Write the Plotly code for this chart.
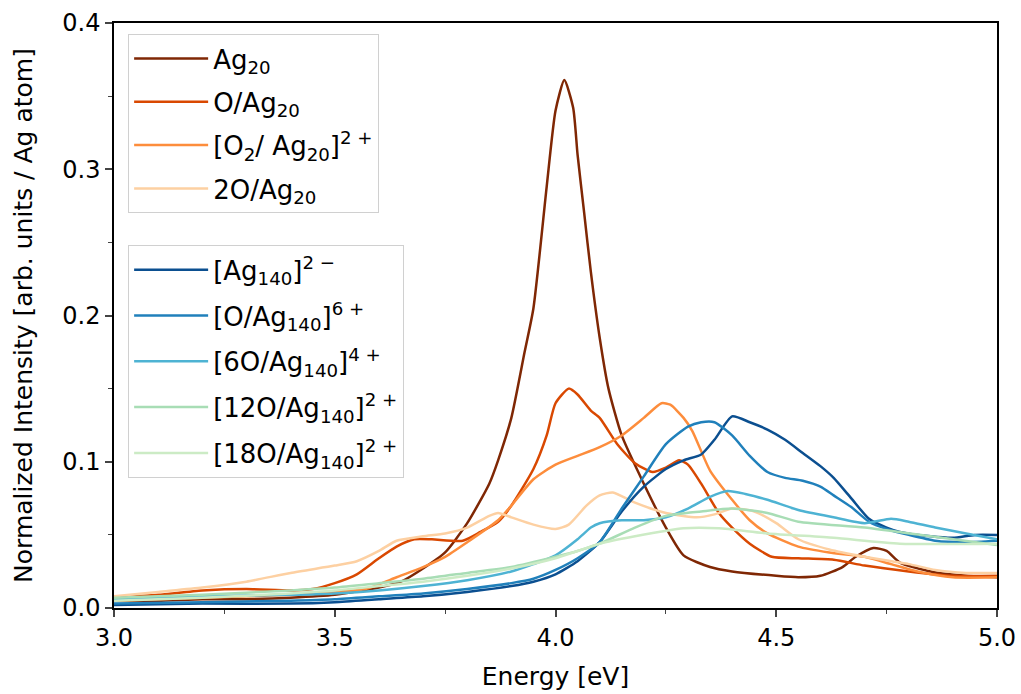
import plotly.graph_objects as go

# ---- data ----
ag20_x = [3.0, 3.1, 3.2, 3.3, 3.4, 3.5, 3.6, 3.65, 3.7, 3.75, 3.8, 3.85, 3.87, 3.9, 3.93, 3.95, 3.98, 4.0, 4.02, 4.04, 4.05, 4.065, 4.08, 4.1, 4.12, 4.15, 4.2, 4.25, 4.29, 4.35, 4.4, 4.5, 4.55, 4.6, 4.65, 4.68, 4.72, 4.75, 4.78, 4.85, 4.93, 5.0]
ag20_y = [0.005, 0.005, 0.006, 0.006, 0.007, 0.009, 0.014, 0.018, 0.027, 0.038, 0.058, 0.085, 0.101, 0.13, 0.175, 0.205, 0.288, 0.34, 0.361, 0.342, 0.31, 0.27, 0.23, 0.185, 0.15, 0.118, 0.085, 0.055, 0.036, 0.028, 0.025, 0.022, 0.021, 0.022, 0.028, 0.035, 0.041, 0.039, 0.031, 0.025, 0.022, 0.021]

oag20_x = [3.0, 3.1, 3.2, 3.3, 3.4, 3.45, 3.5, 3.55, 3.6, 3.64, 3.68, 3.72, 3.79, 3.83, 3.87, 3.9, 3.95, 3.98, 4.0, 4.03, 4.05, 4.08, 4.1, 4.14, 4.18, 4.22, 4.25, 4.28, 4.3, 4.33, 4.37, 4.4, 4.44, 4.49, 4.55, 4.63, 4.7, 4.8, 4.9, 5.0]
oag20_y = [0.007, 0.009, 0.012, 0.013, 0.012, 0.013, 0.017, 0.023, 0.034, 0.042, 0.047, 0.047, 0.046, 0.052, 0.059, 0.07, 0.095, 0.118, 0.14, 0.15, 0.146, 0.135, 0.13, 0.112, 0.099, 0.093, 0.096, 0.101, 0.098, 0.085, 0.065, 0.055, 0.044, 0.035, 0.034, 0.033, 0.029, 0.025, 0.022, 0.022]

o2ag20_x = [3.0, 3.1, 3.2, 3.3, 3.4, 3.5, 3.57, 3.64, 3.7, 3.75, 3.8, 3.87, 3.9, 3.95, 4.0, 4.05, 4.1, 4.15, 4.2, 4.24, 4.26, 4.29, 4.31, 4.35, 4.4, 4.44, 4.48, 4.55, 4.62, 4.7, 4.76, 4.82, 4.9, 5.0]
o2ag20_y = [0.005, 0.006, 0.007, 0.008, 0.009, 0.011, 0.013, 0.021, 0.028, 0.035, 0.045, 0.06, 0.07, 0.088, 0.098, 0.104, 0.11, 0.118, 0.13, 0.14, 0.139, 0.13, 0.121, 0.094, 0.074, 0.06, 0.051, 0.042, 0.038, 0.035, 0.03, 0.025, 0.021, 0.021]

o2ag20b_x = [3.0, 3.1, 3.2, 3.3, 3.4, 3.5, 3.55, 3.6, 3.64, 3.7, 3.75, 3.8, 3.85, 3.87, 3.9, 3.95, 4.0, 4.03, 4.07, 4.1, 4.13, 4.18, 4.25, 4.32, 4.36, 4.4, 4.45, 4.5, 4.55, 4.62, 4.7, 4.8, 4.86, 4.93, 5.0]
o2ag20b_y = [0.008, 0.011, 0.014, 0.018, 0.024, 0.029, 0.032, 0.039, 0.046, 0.049, 0.051, 0.055, 0.063, 0.065, 0.062, 0.057, 0.054, 0.057, 0.07, 0.077, 0.079, 0.072, 0.065, 0.062, 0.064, 0.068, 0.066, 0.058, 0.047, 0.04, 0.035, 0.03, 0.026, 0.024, 0.024]

ag140_x = [3.0, 3.2, 3.4, 3.5, 3.6, 3.7, 3.8, 3.9, 3.95, 4.0, 4.05, 4.1, 4.15, 4.2, 4.25, 4.29, 4.33, 4.36, 4.4, 4.44, 4.48, 4.52, 4.56, 4.6, 4.63, 4.67, 4.71, 4.75, 4.78, 4.85, 4.9, 4.95, 5.0]
ag140_y = [0.002, 0.003, 0.003, 0.004, 0.006, 0.008, 0.011, 0.015, 0.018, 0.023, 0.032, 0.045, 0.066, 0.083, 0.095, 0.101, 0.105, 0.115, 0.131, 0.127, 0.122, 0.115, 0.106, 0.097, 0.089, 0.075, 0.061, 0.055, 0.052, 0.049, 0.048, 0.05, 0.05]

oag140_x = [3.0, 3.2, 3.4, 3.5, 3.6, 3.7, 3.8, 3.9, 3.95, 4.0, 4.05, 4.1, 4.15, 4.2, 4.25, 4.3, 4.33, 4.36, 4.4, 4.44, 4.48, 4.52, 4.56, 4.6, 4.63, 4.67, 4.71, 4.75, 4.8, 4.86, 4.93, 5.0]
oag140_y = [0.003, 0.004, 0.005, 0.006, 0.008, 0.01, 0.013, 0.017, 0.02, 0.026, 0.034, 0.045, 0.068, 0.09, 0.112, 0.124, 0.127, 0.127, 0.118, 0.104, 0.093, 0.089, 0.087, 0.083, 0.077, 0.069, 0.059, 0.054, 0.05, 0.046, 0.045, 0.046]

o6ag140_x = [3.0, 3.2, 3.4, 3.5, 3.6, 3.7, 3.8, 3.9, 3.95, 4.0, 4.05, 4.08, 4.1, 4.15, 4.2, 4.25, 4.3, 4.35, 4.39, 4.43, 4.48, 4.55, 4.63, 4.7, 4.76, 4.8, 4.86, 4.93, 5.0]
o6ag140_y = [0.006, 0.008, 0.009, 0.01, 0.012, 0.015, 0.019, 0.025, 0.03, 0.036, 0.047, 0.055, 0.058, 0.06, 0.06, 0.062, 0.068, 0.076, 0.08, 0.078, 0.074, 0.067, 0.062, 0.058, 0.061, 0.059, 0.055, 0.051, 0.047]

o12ag140_x = [3.0, 3.2, 3.4, 3.5, 3.6, 3.7, 3.8, 3.9, 4.0, 4.05, 4.1, 4.18, 4.25, 4.33, 4.4, 4.48, 4.55, 4.7, 4.85, 5.0]
o12ag140_y = [0.007, 0.009, 0.012, 0.014, 0.017, 0.02, 0.024, 0.028, 0.035, 0.039, 0.044, 0.055, 0.063, 0.066, 0.068, 0.065, 0.059, 0.055, 0.049, 0.043]

o18ag140_x = [3.0, 3.2, 3.4, 3.5, 3.6, 3.7, 3.8, 3.9, 4.0, 4.05, 4.1, 4.18, 4.29, 4.37, 4.48, 4.63, 4.78, 5.0]
o18ag140_y = [0.005, 0.007, 0.01, 0.012, 0.015, 0.018, 0.022, 0.027, 0.034, 0.039, 0.044, 0.049, 0.0545, 0.0545, 0.051, 0.048, 0.044, 0.044]

series = [
    ("Ag<sub>20</sub>", ag20_x, ag20_y, "#7f2704", "legend"),
    ("O/Ag<sub>20</sub>", oag20_x, oag20_y, "#d94801", "legend"),
    ("[O<sub>2</sub>/ Ag<sub>20</sub>]<sup>2 +</sup>", o2ag20_x, o2ag20_y, "#fd8d3c", "legend"),
    ("2O/Ag<sub>20</sub>", o2ag20b_x, o2ag20b_y, "#fdd0a2", "legend"),
    ("[Ag<sub>140</sub>]<sup>2 \u2212</sup>", ag140_x, ag140_y, "#0b4f90", "legend2"),
    ("[O/Ag<sub>140</sub>]<sup>6 +</sup>", oag140_x, oag140_y, "#2080bb", "legend2"),
    ("[6O/Ag<sub>140</sub>]<sup>4 +</sup>", o6ag140_x, o6ag140_y, "#4eb3d3", "legend2"),
    ("[12O/Ag<sub>140</sub>]<sup>2 +</sup>", o12ag140_x, o12ag140_y, "#a8ddb5", "legend2"),
    ("[18O/Ag<sub>140</sub>]<sup>2 +</sup>", o18ag140_x, o18ag140_y, "#ccebc5", "legend2"),
]

fig = go.Figure()
for i, (name, xs, ys, col, lg) in enumerate(series):
    fig.add_trace(go.Scatter(x=xs, y=ys, mode="lines", name=name, legendgroup=f"g{i}",
                             line=dict(color=col, width=2.5, shape="spline", smoothing=0.6),
                             legend=lg))

FONT = "DejaVu Sans"
legend_style = dict(bgcolor="rgba(255,255,255,0.8)", bordercolor="#d0d0d0", borderwidth=1,
                    font=dict(family=FONT, size=26, color="black"), xanchor="left", yanchor="top",
                    itemwidth=74)

fig.update_layout(
    width=1021, height=694,
    margin=dict(l=114, r=24, t=23, b=86),
    paper_bgcolor="white", plot_bgcolor="white",
    font=dict(family=FONT, size=24, color="black"),
    legend=dict(x=0.016, y=0.981, tracegroupgap=6.5, **legend_style),
    legend2=dict(x=0.016, y=0.62, tracegroupgap=9, **legend_style),
    xaxis=dict(range=[3.0, 5.0], dtick=0.5, tickformat=".1f", ticks="outside", ticklen=7, tickwidth=1.5,
               showline=True, linecolor="black", linewidth=1.5, mirror=True, showgrid=False, zeroline=False,
               automargin=False,
               minor=dict(dtick=0.25, ticks="outside", ticklen=4, tickwidth=1.2, showgrid=False),
               title=dict(text="Energy [eV]", standoff=17, font=dict(size=25)), tickfont=dict(size=24)),
    yaxis=dict(range=[0.0, 0.4], dtick=0.1, tickformat=".1f", ticks="outside", ticklen=7, tickwidth=1.5,
               showline=True, linecolor="black", linewidth=1.5, mirror=True, showgrid=False, zeroline=False,
               automargin=False,
               minor=dict(dtick=0.05, ticks="outside", ticklen=4, tickwidth=1.2, showgrid=False),
               title=dict(text="Normalized Intensity [arb. units / Ag atom]", standoff=23, font=dict(size=25)),
               tickfont=dict(size=24)),
)

fig.write_html("out.html", config={"displayModeBar": False},
               post_script="document.body.style.margin='0';document.body.style.padding='0';")
